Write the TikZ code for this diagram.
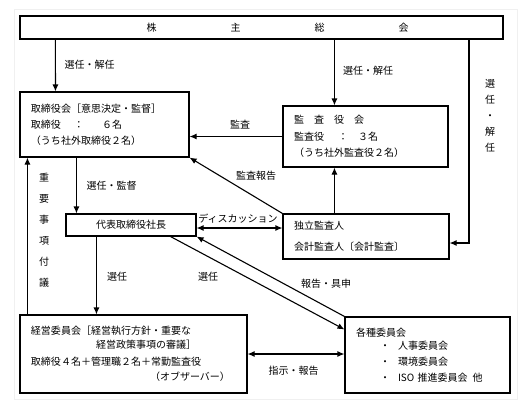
\documentclass[tikz,border=0pt]{standalone}
\usepackage{fontspec}
\setmainfont{Noto Sans CJK JP}
\usetikzlibrary{arrows.meta}
\setlength{\parindent}{0pt}

\tikzset{
	box/.style={draw, inner xsep=11bp, inner ysep=0pt, align=left},
}

\begin{document}
\begin{tikzpicture}[x=1bp, y=-1bp, line width=1.1bp, font=\fontsize{10bp}{16bp}\selectfont]
		    \tikzset{>={Latex[length=7bp,width=6bp]}}
		    \useasboundingbox (0,0) rectangle (531,406);
		    \draw [gray!12, line width=0.8bp] (14,9) rectangle (517,399);
		    \node [box, minimum width=483bp, minimum height=23bp] (sk) at (261.5,27.5) {\hspace*{32bp}株\hspace{74bp}主\hspace{74bp}総\hspace{74bp}会};
		    \node [box, text width=147bp, minimum height=65bp] (tb) at (104.5,124.5) {取締役会［意思決定・監督］\\取締役\hspace{13bp}：\hspace{18bp}６名\\（うち社外取締役２名）};
		    \node [box, text width=143bp, minimum height=61bp] (ka) at (365.5,136.5) {監　査　役　会\\[1bp]監査役\hspace{14bp}：\hspace{10bp}３名\\（うち社外監査役２名）};
		    \node [box, text width=144bp, minimum height=45bp] (dk) at (366,236.5) {独立監査人\\[5bp]会計監査人〔会計監査〕};
		    \node [box, minimum width=130bp, minimum height=22bp] (dh) at (131,225) {代表取締役社長};
		    \node [box, text width=205bp, minimum height=78bp] (kk) at (133.5,354) {経営委員会［経営執行方針・重要な\\[-2bp]\hspace*{65bp}経営政策事項の審議］\\[1bp]取締役４名＋管理職２名＋常勤監査役\\[-1bp]\hspace*{119bp}（オブザーバー）};
		    \node [box, text width=143bp, minimum height=76bp] (ks) at (427.5,355) {各種委員会\\[-3bp]\hspace*{24bp}・\hspace{8bp}人事委員会\\\hspace*{24bp}・\hspace{8bp}環境委員会\\\hspace*{24bp}・\hspace{8bp}ISO 推進委員会\hspace{5bp}他};
		    \node (l1) at (89.5,65) {選任・解任};
		    \node (l2) at (368,71) {選任・解任};
		    \node [align=center] (l3) at (490,115.5) {選\\任\\・\\解\\任};
		    \node (l4) at (240,125) {監査};
		    \node (l5) at (256,176) {監査報告};
		    \node (l6) at (111.5,186) {選任・監督};
		    \node (l7) at (238,219) {ディスカッション};
		    \node [align=center, font=\fontsize{10bp}{21bp}\selectfont] (l8) at (44,230.5) {重\\要\\事\\項\\付\\議};
		    \node (l9) at (117,277) {選任};
		    \node (l10) at (208,277) {選任};
		    \node (l11) at (326,284) {報告・具申};
		    \node (l12) at (293.5,371) {指示・報告};
		    \coordinate (kaTop) at ([xshift=52bp]ka.north west);
		    \coordinate (dhTop) at ([xshift=11bp]dh.north west);
		    \coordinate (kkTop) at ([xshift=77bp]kk.north west);
		    \coordinate (tbBot) at ([xshift=8bp]tb.south west);
		    \coordinate (dsc) at ([yshift=-3bp]dh.east);
		    \coordinate (rt) at (469,243);
		    \draw [->] ([xshift=36bp]sk.south west) -- ([xshift=36bp]tb.north west);
		    \draw [->] (sk.south -| kaTop) -- (kaTop);
		    \draw [->] (sk.south -| rt) -- (rt) -- (rt -| dk.east);
		    \draw [->] (ka.west) -- (ka.west -| tb.east);
		    \draw [->] (dk.north -| kaTop) -- (ka.south -| kaTop);
		    \draw [->] (dk.north west) -- (tb.south east);
		    \draw [->] (tb.south -| dhTop) -- (dhTop);
		    \draw [<->] (dsc) -- (dsc -| dk.west);
		    \draw [->] (dh.south -| kkTop) -- (kkTop);
		    \draw [->] (kk.north -| tbBot) -- (tbBot);
		    \draw [->] ([xshift=-26bp]dh.south east) -- ([yshift=-13bp]ks.north west);
		    \draw [->] (ks.north west) -- (dh.south east);
		    \draw [<->] (kk.east) -- (kk.east -| ks.west);
		\end{tikzpicture}
\end{document}
